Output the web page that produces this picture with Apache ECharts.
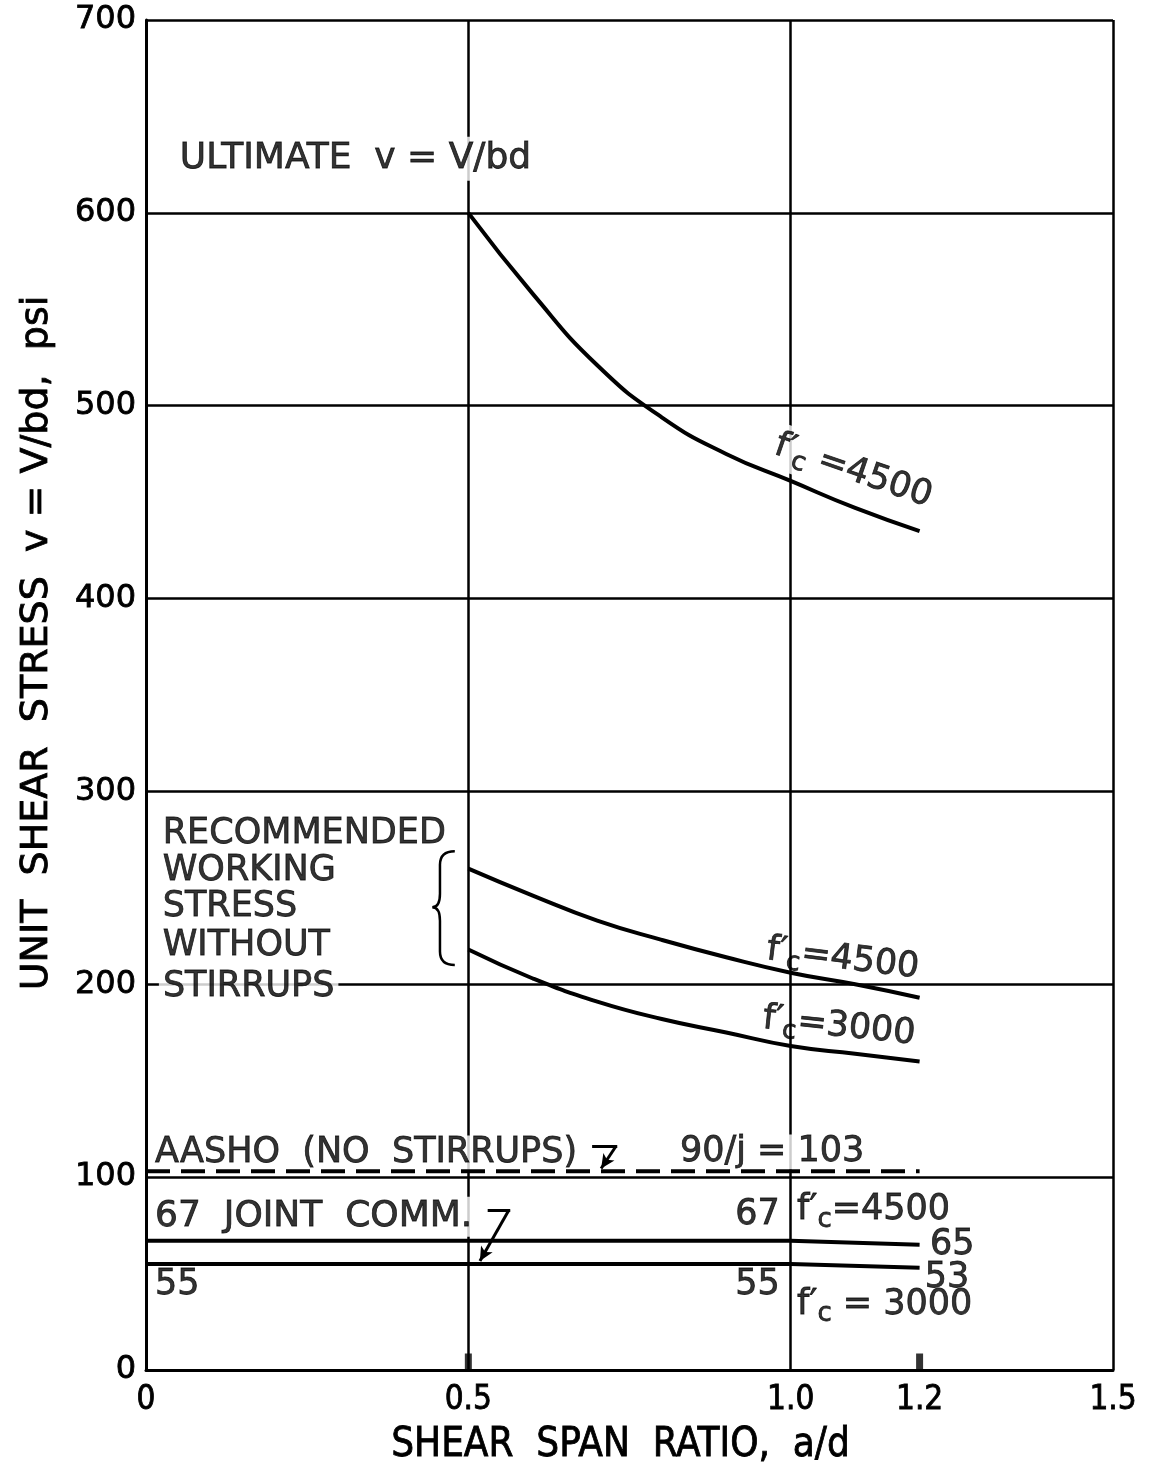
<!DOCTYPE html>
<html>
<head>
<meta charset="utf-8">
<script src="https://cdn.jsdelivr.net/npm/echarts@6/dist/echarts.min.js"></script>
<style>
  html, body { margin: 0; padding: 0; background: #fff; }
  #chart { width: 1151px; height: 1474px; }
</style>
</head>
<body>
<div id="chart"></div>
<script>
// shear span ratio a/d
const ratioX = [0.5, 0.6, 0.7, 0.8, 0.9, 1.0, 1.1, 1.2];
const ultimate4500 = [600, 558, 521, 494, 475, 461, 447, 435];
const work4500 = [260, 246, 233, 223, 214, 206, 200, 193];
const work3000 = [218, 203, 191, 182, 175, 168, 164, 160];

const aashoX = [0, 1.2];
const aasho = [103, 103];

const jointX = [0, 1.0, 1.2];
const joint4500 = [67, 67, 65];
const joint3000 = [55, 55, 53];

const xLabels = [0, 0.5, 1.0, 1.2, 1.5];
const markedX = [0.5, 1.2];

const FONT = '"DejaVu Sans", "Noto Sans", sans-serif';
const NARROW = '"Liberation Sans Narrow", "DejaVu Sans Condensed", "DejaVu Sans", sans-serif';
// thicken the lettering a little
const INK = { color: '#000', textBorderColor: '#000', textBorderWidth: 0.8 };

function pairs(xs, ys) {
	return xs.map((x, i) => [x, ys[i]]);
}

// f'c with subscript c
const fcRich = {
	f: Object.assign({ fontSize: 35, fontFamily: FONT, lineHeight: 46 }, INK),
	s: Object.assign({ fontSize: 26, fontFamily: FONT, lineHeight: 26, verticalAlign: 'bottom' }, INK),
	n: Object.assign({ fontSize: 35, fontFamily: FONT, lineHeight: 46 }, INK)
};
function fc(num) {
	return '{f|f\u2032}{s|c}{n|' + num + '}';
}

// text notes (x, y in data units)
function note(x, y, text, opt) {
	return {
		value: [x, y],
		label: Object.assign({
			show: true,
			formatter: text,
			position: 'right',
			distance: 0,
			fontSize: 35,
			fontFamily: FONT,
			rich: fcRich
		}, INK, opt || {})
	};
}

const notes = [
	note(0.040, 628, 'ULTIMATE  v = V/bd', { fontSize: 36, backgroundColor: '#fff', padding: [4, 8] }),
	note(1.097, 466, fc(' =4500'), { position: 'inside', rotate: -19, backgroundColor: '#fff', padding: [0, 4] }),
	note(0.026, 278, 'RECOMMENDED'),
	note(0.026, 259, 'WORKING'),
	note(0.026, 240, 'STRESS'),
	note(0.026, 220, 'WITHOUT'),
	note(0.020, 198.5, 'STIRRUPS', { backgroundColor: '#fff', padding: [2, 4] }),
	note(1.081, 213, fc('=4500'), { position: 'inside', rotate: -7 }),
	note(1.075, 178, fc('=3000'), { position: 'inside', rotate: -6 }),
	note(0.011, 112.5, 'AASHO  (NO  STIRRUPS)', { backgroundColor: '#fff', padding: [0, 2] }),
	note(0.822, 113, '90/j = 103', { backgroundColor: '#fff', padding: [0, 4] }),
	note(0.011, 79.5, '67  JOINT  COMM.', { fontSize: 36, backgroundColor: '#fff', padding: [2, 2] }),
	note(0.983, 80.5, '67', { position: 'left' }),
	note(1.010, 83, fc('=4500')),
	note(1.216, 65, '65'),
	note(1.208, 47.5, '53'),
	note(0.014, 44, '55'),
	note(0.983, 44, '55', { position: 'left' }),
	note(1.010, 34, fc(' = 3000'))
];

function curve(name, data) {
	return {
		name: name,
		type: 'line',
		data: data,
		smooth: 0.5,
		symbol: 'none',
		z: 5,
		lineStyle: { color: '#000', width: 4 }
	};
}

const chart = echarts.init(document.getElementById('chart'), null, { renderer: 'canvas' });

const option = {
	backgroundColor: '#fff',
	animation: false,
	grid: { left: 146, right: 38, top: 20, bottom: 104 },
	xAxis: {
		type: 'value',
		min: 0,
		max: 1.5,
		interval: 0.5,
		name: 'SHEAR  SPAN  RATIO,  a/d',
		nameLocation: 'middle',
		nameGap: 56,
		nameTextStyle: Object.assign({ fontSize: 40, fontFamily: NARROW, padding: [0, 18, 0, 0] }, INK),
		axisLine: { show: true, onZero: false, lineStyle: { color: '#000', width: 3 } },
		axisTick: { show: false },
		splitLine: { show: true, lineStyle: { color: '#000', width: 2.5 } },
		axisLabel: Object.assign({
			customValues: xLabels,
			margin: 14,
			fontSize: 33,
			fontFamily: NARROW,
			formatter: v => (v === 0 ? '0' : v.toFixed(1))
		}, INK)
	},
	yAxis: {
		type: 'value',
		min: 0,
		max: 700,
		interval: 100,
		name: 'UNIT  SHEAR  STRESS  v = V/bd,  psi',
		nameLocation: 'middle',
		nameGap: 90,
		nameRotate: 90,
		nameTextStyle: Object.assign({ fontSize: 38, fontFamily: FONT, padding: [0, 0, 0, 104] }, INK),
		axisLine: { show: true, onZero: false, lineStyle: { color: '#000', width: 3 } },
		axisTick: { show: false },
		splitLine: { show: true, lineStyle: { color: '#000', width: 2.5 } },
		axisLabel: Object.assign({ margin: 10, fontSize: 32, fontFamily: FONT }, INK)
	},
	series: [
		curve('ultimate 4500', pairs(ratioX, ultimate4500)),
		curve('working 4500', pairs(ratioX, work4500)),
		curve('working 3000', pairs(ratioX, work3000)),
		{
			name: 'AASHO',
			type: 'line',
			data: pairs(aashoX, aasho),
			symbol: 'none',
			z: 5,
			lineStyle: { color: '#000', width: 4, type: [24, 11] }
		},
		{
			name: 'joint comm 4500',
			type: 'line',
			data: pairs(jointX, joint4500),
			symbol: 'none',
			z: 5,
			lineStyle: { color: '#000', width: 4 }
		},
		{
			name: 'joint comm 3000',
			type: 'line',
			data: pairs(jointX, joint3000),
			symbol: 'none',
			z: 5,
			lineStyle: { color: '#000', width: 4 }
		},
		{
			name: 'notes',
			type: 'scatter',
			symbolSize: 0,
			z: 3,
			silent: true,
			data: notes,
			markLine: {
				silent: true,
				symbol: ['none', 'none'],
				symbolSize: [10, 14],
				label: { show: false },
				lineStyle: { color: '#000', width: 3, type: 'solid' },
				data: [
					[{ coord: [0.692, 116] }, { coord: [0.731, 116] }],
					[{ coord: [0.729, 116], symbol: 'none' }, { coord: [0.706, 104.5], symbol: 'arrow' }],
					[{ coord: [0.530, 83] }, { coord: [0.565, 83] }],
					[{ coord: [0.563, 83], symbol: 'none' }, { coord: [0.518, 56.5], symbol: 'arrow' }]
				]
			}
		},
		{
			name: 'brace',
			type: 'custom',
			z: 5,
			silent: true,
			data: [[0.456, 240]],
			renderItem: function (params, api) {
				const c = v => api.coord(v);
				const e = 0.479, s = 0.456, t = 0.444;
				const p = [
					c([e, 269]), c([s, 269]), c([s, 262]), c([s, 247]), c([s, 240]), c([t, 240]),
					c([s, 240]), c([s, 233]), c([s, 217]), c([s, 210]), c([e, 210])
				];
				const d = 'M' + p[0] + 'Q' + p[1] + ' ' + p[2] + 'L' + p[3] + 'Q' + p[4] + ' ' + p[5] +
					'Q' + p[6] + ' ' + p[7] + 'L' + p[8] + 'Q' + p[9] + ' ' + p[10];
				return {
					type: 'path',
					shape: { pathData: d },
					style: { stroke: '#000', fill: 'none', lineWidth: 2.5 }
				};
			}
		},
		{
			name: 'marks',
			type: 'scatter',
			symbol: 'rect',
			symbolSize: [7, 17],
			symbolOffset: [0, -8],
			clip: false,
			z: 6,
			silent: true,
			itemStyle: { color: '#000' },
			data: markedX.map(x => [x, 0])
		}
	]
};

chart.setOption(option);
window.addEventListener('resize', function () {
	chart.resize();
});
</script>
</body>
</html>
